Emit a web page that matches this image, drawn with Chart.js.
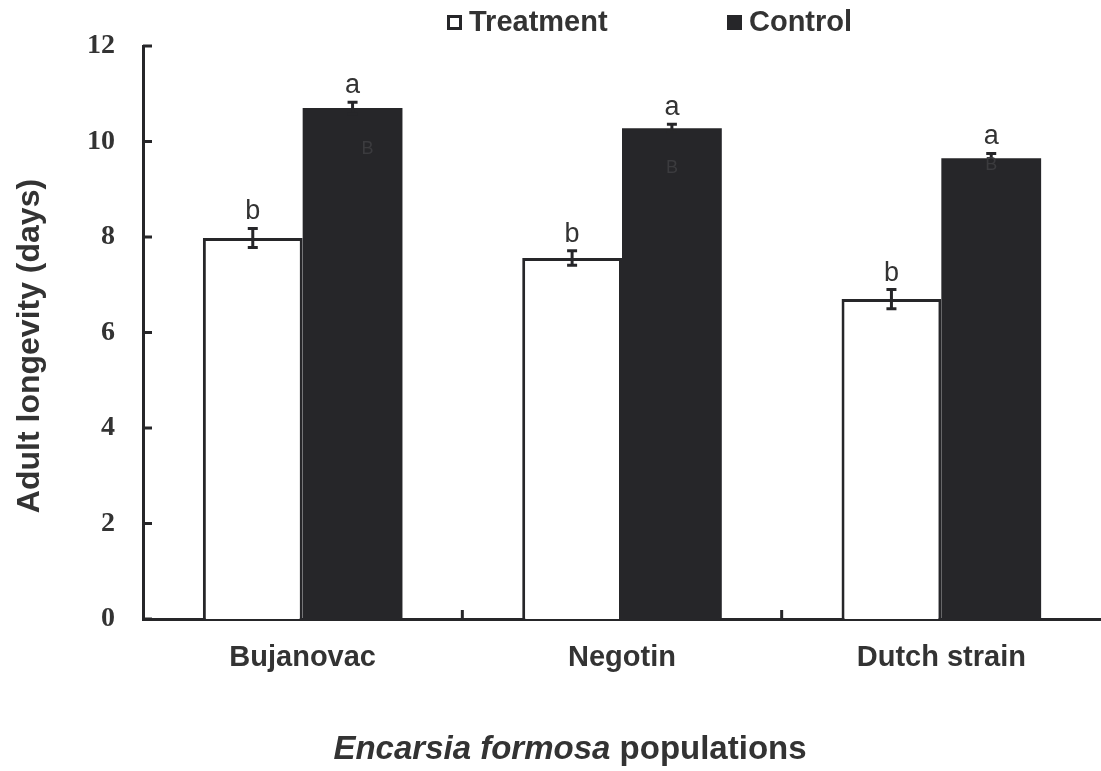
<!DOCTYPE html>
<html>
<head>
<meta charset="utf-8">
<script src="https://cdn.jsdelivr.net/npm/chart.js@4.4.1/dist/chart.umd.min.js"></script>
<style>
html,body{margin:0;padding:0;background:#fff;}
#wrap{width:1101px;height:771px;}
</style>
</head>
<body>
<div id="wrap"><canvas id="c" width="1101" height="771"></canvas></div>
<script>
const categories = ["Bujanovac", "Negotin", "Dutch strain"];
const treatment = [7.98, 7.56, 6.70];
const control = [10.70, 10.28, 9.65];
const treatmentErr = [0.20, 0.15, 0.20];
const controlErr = [0.12, 0.08, 0.10];
const treatmentLetters = ["b", "b", "b"];
const controlLetters = ["a", "a", "a"];
const innerLetters = ["B", "B", "B"];
const yTicks = [0, 2, 4, 6, 8, 10, 12];

const DARK = "#262629";
const TEXT = "#333333";
const SANS = "'Liberation Sans', Arial, sans-serif";

const overlay = {
  id: "overlay",
  afterDatasetsDraw(chart) {
    const ctx = chart.ctx;
    const x = chart.scales.x, y = chart.scales.y;
    const ca = chart.chartArea;
    ctx.save();
    ctx.strokeStyle = DARK; ctx.lineWidth = 3; ctx.lineCap = "butt";
    yTicks.forEach(v => {
      const py = y.getPixelForValue(v);
      ctx.beginPath(); ctx.moveTo(ca.left, py); ctx.lineTo(ca.left + 9, py); ctx.stroke();
    });
    for (let i = 1; i < categories.length; i++) {
      const px = (x.getPixelForValue(i - 1) + x.getPixelForValue(i)) / 2;
      ctx.beginPath(); ctx.moveTo(px, ca.bottom); ctx.lineTo(px, ca.bottom - 9); ctx.stroke();
    }
    const drawErr = (meta, vals, errs, letters, color) => {
      meta.data.forEach((bar, i) => {
        const cx = bar.x;
        const top = y.getPixelForValue(vals[i] + errs[i]);
        const bot = y.getPixelForValue(vals[i] - errs[i]);
        ctx.strokeStyle = color; ctx.lineWidth = 3;
        ctx.beginPath(); ctx.moveTo(cx, top); ctx.lineTo(cx, bot); ctx.stroke();
        ctx.beginPath(); ctx.moveTo(cx - 5, top); ctx.lineTo(cx + 5, top);
        ctx.moveTo(cx - 5, bot); ctx.lineTo(cx + 5, bot); ctx.stroke();
        ctx.fillStyle = TEXT; ctx.font = "27px " + SANS;
        ctx.textAlign = "center"; ctx.textBaseline = "alphabetic";
        ctx.fillText(letters[i], cx, top - 9);
      });
    };
    drawErr(chart.getDatasetMeta(0), treatment, treatmentErr, treatmentLetters, DARK);
    drawErr(chart.getDatasetMeta(1), control, controlErr, controlLetters, DARK);
    const m1 = chart.getDatasetMeta(1);
    ctx.fillStyle = "#3b3b3e"; ctx.font = "18px " + SANS;
    ctx.textAlign = "center"; ctx.textBaseline = "middle";
    const offs = [[15, 41], [0, 40], [0, 7]];
    m1.data.forEach((bar, i) => {
      ctx.fillText(innerLetters[i], bar.x + offs[i][0], bar.y + offs[i][1]);
    });
    // legend
    ctx.font = "bold 29px " + SANS;
    ctx.textAlign = "left"; ctx.textBaseline = "middle";
    ctx.strokeStyle = DARK; ctx.lineWidth = 3;
    ctx.strokeRect(448.5, 16.5, 12, 12);
    ctx.fillStyle = TEXT; ctx.fillText(chart.data.datasets[0].label, 469, 23);
    ctx.fillStyle = DARK; ctx.fillRect(727, 15, 15, 15);
    ctx.fillStyle = TEXT; ctx.fillText(chart.data.datasets[1].label, 749, 23);
    // y title
    ctx.save();
    ctx.translate(30, 346); ctx.rotate(-Math.PI / 2);
    ctx.font = "bold 32px " + SANS;
    ctx.textAlign = "center"; ctx.textBaseline = "middle"; ctx.fillStyle = TEXT;
    ctx.fillText("Adult longevity (days)", 0, 0);
    ctx.restore();
    // x title
    const p1 = "Encarsia formosa", p2 = " populations";
    const f1 = "italic bold 33px " + SANS;
    const f2 = "bold 33px " + SANS;
    ctx.font = f1; const w1 = ctx.measureText(p1).width;
    ctx.font = f2; const w2 = ctx.measureText(p2).width;
    const startX = 570 - (w1 + w2) / 2;
    ctx.fillStyle = TEXT; ctx.textAlign = "left"; ctx.textBaseline = "middle";
    ctx.font = f1; ctx.fillText(p1, startX, 750);
    ctx.font = f2; ctx.fillText(p2, startX + w1, 750);
    ctx.restore();
  }
};

new Chart(document.getElementById("c"), {
  type: "bar",
  data: {
    labels: categories,
    datasets: [
      { label: "Treatment", data: treatment, backgroundColor: "#ffffff", borderColor: DARK, borderWidth: 3, borderSkipped: "bottom" },
      { label: "Control", data: control, backgroundColor: DARK, borderWidth: 0 }
    ]
  },
  options: {
    responsive: false,
    animation: false,
    devicePixelRatio: 1,
    categoryPercentage: 0.625,
    barPercentage: 1.0,
    layout: { padding: { top: 46, right: 0, left: 0, bottom: 0 } },
    plugins: { legend: { display: false }, tooltip: { enabled: false } },
    scales: {
      x: {
        grid: { display: false, drawTicks: false },
        border: { display: true, color: DARK, width: 3 },
        ticks: { color: TEXT, font: { family: SANS, size: 29, weight: "bold" }, padding: 22 },
        afterFit(s) { s.height = 152; }
      },
      y: {
        min: 0, max: 12,
        grid: { display: false, drawTicks: false },
        border: { display: true, color: DARK, width: 3 },
        ticks: { stepSize: 2, color: TEXT, font: { family: "'Liberation Serif', 'Times New Roman', serif", size: 28, weight: "bold" }, padding: 28 },
        afterFit(s) { s.width = 143; }
      }
    }
  },
  plugins: [overlay]
});
</script>
</body>
</html>
